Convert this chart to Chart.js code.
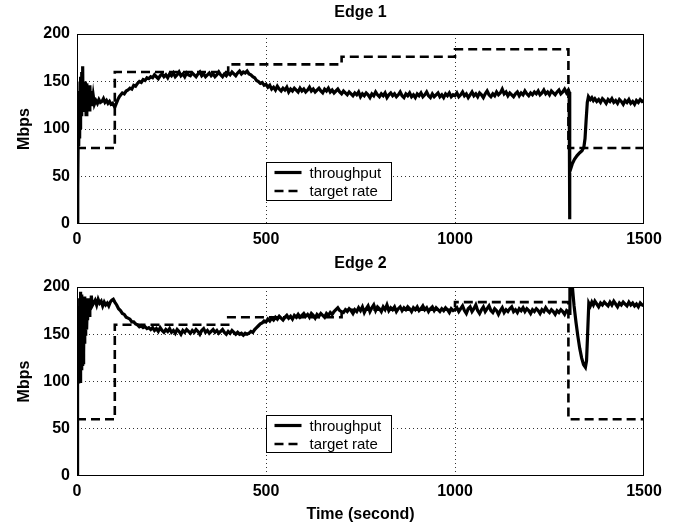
<!DOCTYPE html>
<html>
<head>
<meta charset="utf-8">
<script src="https://cdn.jsdelivr.net/npm/chart.js@4.4.1/dist/chart.umd.min.js"></script>
<style>
  html, body { margin: 0; padding: 0; background: #fff; }
  #wrap { position: relative; width: 694px; height: 526px; }
  canvas { position: absolute; left: 0; }
</style>
</head>
<body>
<div id="wrap">
  <canvas id="edge1" width="694" height="250" style="top:0"></canvas>
  <canvas id="edge2" width="694" height="276" style="top:250px"></canvas>
</div>
<script>
// ---- data: [time (s), Mbps] ----
const xTickValues = [0, 500, 1000, 1500];
const yTickValues = [0, 50, 100, 150, 200];

const edge1Throughput = [
  [0,0],[2,40],[3,85],[4,120],[5,82],[6,140],[7,90],[8,150],[9,100],[10,155],[11,115],[12,160],[13,120],[14,150],
  [15,166],[16,125],[17,150],[18,118],[19,145],[20,128],[22,150],[24,115],[26,148],[28,122],[30,140],[32,120],
  [34,146],[36,125],[38,140],[40,124],[43,135],[46,126],[50,130],[54,127],[58,131],[62,128],[66,129],[70,132],
  [74,128],[78,130],[82,127],[86,129],[90,126],[94,127],[97,125],[100,123],[104,127],[108,131],[112,134],[116,136],
  [120,138],[125,137],[130,140],[135,141],[140,143],[145,142],[150,146],[155,145],[160,148],[165,150],[170,149],
  [175,152],[180,151],[185,154],[190,153],[195,155],
  [200,154],[205,157],[210,155],[215,153],[220,156],[225,158],[230,155],[235,157],[240,154],[245,158],[250,156],
  [255,159],[260,155],[265,157],[270,160],[275,156],[280,158],[285,155],[290,159],[295,157],[300,156],[305,159],
  [310,157],[315,155],[320,158],[325,160],[330,156],[335,158],[340,155],[345,157],[350,159],[355,156],[360,158],
  [365,155],[370,157],[375,160],[380,157],[385,155],[390,158],[395,156],[400,159],[405,157],[410,160],[415,158],
  [420,156],[425,159],[430,161],[435,158],[440,160],[445,159],[450,161],[455,158],[460,157],[465,155],[470,154],
  [475,151],[480,150],[485,148],[490,149],[495,146],[500,147],
  [505,144],[510,146],[515,142],[520,144],[525,141],[530,145],[535,142],[540,140],[545,143],[550,141],[555,144],
  [560,139],[565,142],[570,140],[575,143],[580,141],[585,139],[590,143],[595,140],[600,142],[605,139],[610,141],
  [615,144],[620,140],[625,142],[630,139],[635,141],[640,143],[645,140],[650,138],[655,142],[660,140],[665,143],
  [670,139],[675,141],[680,138],[685,140],[690,142],[695,139],[700,137],
  [705,140],[710,138],[715,136],[720,139],[725,137],[730,135],[735,138],[740,136],[745,139],[750,134],[755,137],
  [760,135],[765,138],[770,136],[775,133],[780,137],[785,135],[790,139],[795,136],[800,134],[805,137],[810,135],
  [815,138],[820,133],[825,136],[830,138],[835,135],[840,137],[845,134],[850,136],[855,139],[860,135],[865,133],
  [870,137],[875,135],[880,138],[885,134],[890,136],[895,133],[900,137],[905,135],[910,138],[915,134],[920,136],
  [925,139],[930,135],[935,133],[940,137],[945,134],[950,136],[955,138],[960,134],[965,136],[970,133],[975,137],
  [980,135],[985,138],[990,134],[995,136],[1000,135],
  [1005,138],[1010,134],[1015,136],[1020,139],[1025,135],[1030,137],[1035,133],[1040,136],[1045,139],[1050,135],
  [1055,137],[1060,134],[1065,138],[1070,136],[1075,133],[1080,137],[1085,140],[1090,136],[1095,134],[1100,137],
  [1105,135],[1110,139],[1115,136],[1120,138],[1125,142],[1130,137],[1135,139],[1140,135],[1145,138],[1150,136],
  [1155,134],[1160,137],[1165,139],[1170,135],[1175,138],[1180,136],[1185,140],[1190,137],[1195,135],[1200,138],
  [1205,136],[1210,139],[1215,137],[1220,140],[1225,136],[1230,138],[1235,141],[1240,137],[1245,139],[1250,136],
  [1255,140],[1260,138],[1265,136],[1270,139],[1275,141],[1280,137],[1285,139],[1290,142],[1295,138],[1300,141],
  [1302,139],[1303,5],[1304,55],[1310,63],[1316,68],[1323,72],[1330,75],[1336,77],[1341,81],[1344,90],[1347,110],
  [1350,128],[1353,134],[1358,131],[1362,133],[1366,130],[1370,132],[1375,129],[1380,131],[1385,128],[1390,132],
  [1395,130],[1400,127],[1405,131],[1410,129],[1415,132],[1420,128],[1425,130],[1430,127],[1435,131],[1440,129],
  [1445,126],[1450,130],[1455,128],[1460,131],[1465,127],[1470,129],[1475,126],[1480,130],[1485,128],[1490,131],
  [1495,129],[1500,130]
];
const edge1TargetTime = [0, 100, 400, 700, 1000, 1300, 1500];
const edge1Target = [80, 160, 168, 176, 184, 80, 80];

const edge2Throughput = [
  [0,0],[1,60],[2,100],[3,170],[4,98],[5,180],[6,105],[7,188],[8,100],[9,195],[10,110],[11,185],[12,112],[13,192],
  [14,118],[15,180],[16,120],[17,188],[18,130],[19,183],[20,140],[21,190],[22,150],[23,182],[24,158],[25,188],
  [26,155],[27,180],[28,165],[30,186],[32,170],[34,188],[36,178],[38,191],[40,180],[44,183],[48,186],[52,181],
  [56,187],[60,183],[64,185],[68,180],[72,184],[76,181],[80,183],[84,180],[88,184],[92,186],[96,187],[100,184],
  [105,181],[110,177],[115,175],[120,172],[125,171],[130,168],[135,167],[140,166],[145,163],[150,163],[155,161],
  [160,160],[165,158],[170,159],[175,157],[180,158],[185,156],[190,157],[195,155],[200,157],
  [205,154],[210,156],[215,153],[220,157],[225,154],[230,152],[235,155],[240,153],[245,156],[250,152],[255,154],
  [260,151],[265,155],[270,153],[275,150],[280,154],[285,152],[290,155],[295,153],[300,151],[305,154],[310,152],
  [315,155],[320,153],[325,150],[330,154],[335,156],[340,152],[345,154],[350,151],[355,153],[360,155],[365,152],
  [370,154],[375,151],[380,153],[385,155],[390,152],[395,150],[400,153],[405,151],[410,154],[415,152],[420,150],
  [425,152],[430,150],[435,151],[440,149],[445,151],[450,150],[455,151],[460,153],[465,152],[470,155],[475,157],
  [480,159],[485,161],[490,162],[495,164],[500,163],[505,166],[510,164],[515,167],[520,165],
  [525,168],[530,166],[535,169],[540,167],[545,165],[550,168],[555,170],[560,167],[565,169],[570,166],[575,170],
  [580,168],[585,171],[590,168],[595,170],[600,172],[605,169],[610,171],[615,168],[620,172],[625,170],[630,167],
  [635,171],[640,169],[645,172],[650,170],[655,168],[660,172],[665,170],[670,173],[675,171],[680,174],[685,176],
  [690,178],[695,175],[700,174],
  [705,173],[710,176],[715,174],[720,177],[725,175],[730,172],[735,176],[740,174],[745,178],[750,175],[755,179],
  [760,173],[765,177],[770,180],[775,174],[780,178],[785,181],[790,175],[795,179],[800,177],[805,174],[810,179],
  [815,176],[820,181],[825,175],[830,178],[835,176],[840,179],[845,174],[850,177],[855,179],[860,175],[865,178],
  [870,176],[875,179],[880,177],[885,174],[890,178],[895,176],[900,179],[905,175],[910,177],[915,180],[920,176],
  [925,178],[930,174],[935,177],[940,179],[945,175],[950,178],[955,176],[960,174],[965,177],[970,175],[975,178],
  [980,176],[985,173],[990,177],[995,175],[1000,176],
  [1005,178],[1010,174],[1015,177],[1020,180],[1025,175],[1030,172],[1035,177],[1040,179],[1045,174],[1050,177],
  [1055,181],[1060,175],[1065,172],[1070,176],[1075,179],[1080,174],[1085,177],[1090,180],[1095,175],[1100,173],
  [1105,177],[1110,175],[1115,171],[1120,175],[1125,178],[1130,173],[1135,176],[1140,174],[1145,177],[1150,179],
  [1155,174],[1160,176],[1165,173],[1170,177],[1175,175],[1180,178],[1185,174],[1190,177],[1195,175],[1200,172],
  [1205,176],[1210,174],[1215,177],[1220,175],[1225,172],[1230,176],[1235,174],[1240,178],[1245,175],[1250,173],
  [1255,176],[1260,174],[1265,171],[1270,175],[1275,173],[1280,176],[1285,174],[1290,171],[1295,175],[1300,173],
  [1302,172],[1304,235],[1308,214],[1311,198],[1315,180],[1320,163],[1325,148],[1330,135],[1335,125],[1340,118],
  [1345,115],[1348,122],[1351,152],[1354,183],[1358,180],[1362,184],[1366,181],[1370,185],[1375,182],[1380,179],
  [1385,183],[1390,181],[1395,184],[1400,182],[1405,180],[1410,184],[1415,181],[1420,185],[1425,182],[1430,179],
  [1435,183],[1440,181],[1445,184],[1450,182],[1455,180],[1460,184],[1465,181],[1470,183],[1475,180],[1480,182],
  [1485,179],[1490,183],[1495,181],[1500,180]
];
const edge2TargetTime = [0, 100, 400, 700, 1000, 1300, 1500];
const edge2Target = [60, 160, 168, 176, 184, 60, 60];

// ---- drawing ----
Chart.defaults.font.family = 'Liberation Sans, Arial, Helvetica, sans-serif';
Chart.defaults.color = '#000';

const frame = {
  id: 'frame',
  afterDatasetsDraw(chart) {
    const { ctx, chartArea: a, scales: { x, y } } = chart;
    ctx.save();
    ctx.strokeStyle = '#000';
    ctx.lineWidth = 1;
    ctx.setLineDash([]);
    ctx.strokeRect(a.left + 0.5, a.top + 0.5, a.width - 1, a.height - 1);

    // legend box in the middle of the axes
    const lx = Math.round(x.getPixelForValue(500)) + 0.5;
    const rx = Math.round(x.getPixelForValue(830)) + 0.5;
    const ty = Math.round(y.getPixelForValue(65)) + 0.5;
    const by = Math.round(y.getPixelForValue(25)) + 0.5;
    ctx.fillStyle = '#fff';
    ctx.fillRect(lx, ty, rx - lx, by - ty);
    ctx.strokeRect(lx, ty, rx - lx, by - ty);
    ctx.font = '15px Liberation Sans, Arial, sans-serif';
    ctx.textBaseline = 'middle';
    ctx.fillStyle = '#000';
    chart.data.datasets.forEach((ds, i) => {
      const ry = ty + 10 + i * 18.5;
      ctx.beginPath();
      ctx.lineWidth = ds.borderWidth;
      ctx.setLineDash(ds.borderDash || []);
      ctx.moveTo(lx + 8, ry);
      ctx.lineTo(lx + 35, ry);
      ctx.stroke();
      ctx.fillText(ds.label, lx + 43, ry + 1);
    });
    ctx.restore();
  }
};

function makeChart(id, title, thr, tTime, target, xTitle, xHeight, titlePad) {
  const thrPts = thr.map(p => ({ x: p[0], y: p[1] }));
  const tgtPts = tTime.map((t, i) => ({ x: t, y: target[i] }));
  const edgeColor = c => (c.tick && (c.tick.value === c.scale.min || c.tick.value === c.scale.max)) ? 'rgba(0,0,0,0)' : '#333';
  return new Chart(document.getElementById(id), {
    type: 'line',
    data: {
      datasets: [
        { label: 'throughput', data: thrPts, borderColor: '#000', borderWidth: 3.2, pointRadius: 0, tension: 0 },
        { label: 'target rate', data: tgtPts, borderColor: '#000', borderWidth: 2.6, borderDash: [9, 5],
          pointRadius: 0, stepped: true }
      ]
    },
    options: {
      responsive: false,
      animation: false,
      devicePixelRatio: 1,
      layout: { padding: { left: 0, right: 50, top: 0, bottom: 0 } },
      plugins: {
        legend: { display: false },
        tooltip: { enabled: false },
        title: {
          display: true, text: title, fullSize: false, color: '#000',
          font: { size: 16, weight: 'bold' }, padding: titlePad
        }
      },
      scales: {
        x: {
          type: 'linear', min: 0, max: 1500,
          afterBuildTicks: s => { s.ticks = xTickValues.map(v => ({ value: v })); },
          afterFit: s => { s.height = xHeight; },
          ticks: { font: { size: 16, weight: 'bold' }, padding: 6, maxRotation: 0, autoSkip: false,
                   callback: v => String(v) },
          grid: { color: edgeColor, lineWidth: 1, drawTicks: false },
          border: { display: false, dash: [1, 3] },
          title: { display: !!xTitle, text: xTitle, font: { size: 16, weight: 'bold' }, padding: { top: 0, bottom: 2 } }
        },
        y: {
          min: 0, max: 200,
          afterBuildTicks: s => { s.ticks = yTickValues.map(v => ({ value: v })); },
          afterFit: s => { s.width = 77; },
          ticks: { font: { size: 16, weight: 'bold' }, padding: 7, callback: v => String(v) },
          grid: { color: edgeColor, lineWidth: 1, drawTicks: false },
          border: { display: false, dash: [1, 3] },
          title: { display: true, text: 'Mbps', font: { size: 16, weight: 'bold' }, padding: { top: 15, bottom: 0 } }
        }
      }
    },
    plugins: [frame]
  });
}

makeChart('edge1', 'Edge 1', edge1Throughput, edge1TargetTime, edge1Target, '', 26,
  { top: 3, bottom: 11.8 });
makeChart('edge2', 'Edge 2', edge2Throughput, edge2TargetTime, edge2Target, 'Time (second)', 50,
  { top: 4, bottom: 13.8 });
</script>
</body>
</html>
